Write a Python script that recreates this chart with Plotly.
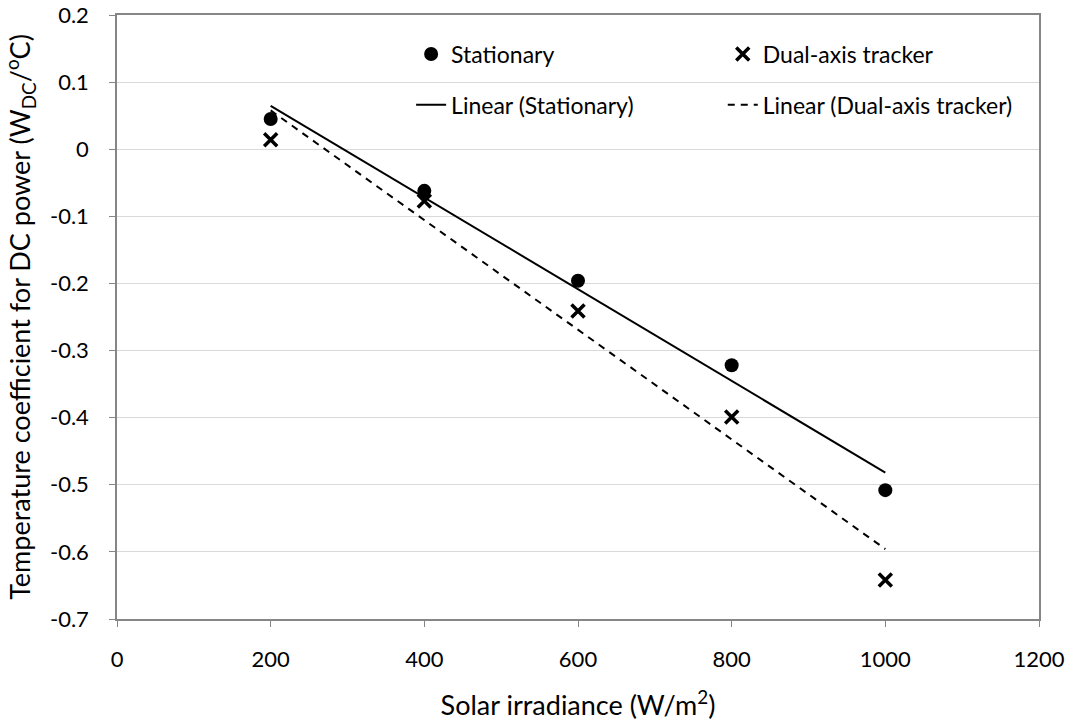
import numpy as np
import plotly.graph_objects as go

# Solar irradiance levels (W/m2)
irradiance = [200, 400, 600, 800, 1000]
# Temperature coefficient for DC power (W_DC/°C)
stationary = [0.045, -0.062, -0.196, -0.322, -0.508]
dual_axis = [0.014, -0.077, -0.241, -0.399, -0.642]

y_ticks = [0.2, 0.1, 0, -0.1, -0.2, -0.3, -0.4, -0.5, -0.6, -0.7]
y_tick_text = ["0.2", "0.1", "0", "-0.1", "-0.2", "-0.3", "-0.4", "-0.5", "-0.6", "-0.7"]
x_ticks = [0, 200, 400, 600, 800, 1000, 1200]

FONT = "Lato, Carlito, Calibri, sans-serif"
AXIS_COLOR = "#868686"

x_arr = np.array(irradiance, dtype=float)
fit_s = np.polyfit(x_arr, np.array(stationary), 1)
fit_d = np.polyfit(x_arr, np.array(dual_axis), 1)
x_fit = np.array([x_arr.min(), x_arr.max()])

fig = go.Figure()

fig.add_trace(go.Scatter(
    x=irradiance, y=stationary, mode="markers", name="Stationary",
    marker=dict(symbol="circle", size=14, color="black"),
    legend="legend", legendgroup="s", legendrank=1,
))
fig.add_trace(go.Scatter(
    x=irradiance, y=dual_axis, mode="markers", name="Dual-axis tracker",
    marker=dict(symbol="x-thin", size=13, color="black",
                line=dict(width=3.5, color="black")),
    legend="legend2", legendgroup="d", legendrank=1,
))
fig.add_trace(go.Scatter(
    x=x_fit, y=np.polyval(fit_s, x_fit), mode="lines", name="Linear (Stationary)",
    line=dict(color="black", width=2),
    legend="legend", legendgroup="ls", legendrank=2,
))
fig.add_trace(go.Scatter(
    x=x_fit, y=np.polyval(fit_d, x_fit), mode="lines", name="Linear (Dual-axis tracker)",
    line=dict(color="black", width=2, dash="7px,6px"),
    legend="legend2", legendgroup="ld", legendrank=2,
))

legend_style = dict(
    font=dict(family=FONT, size=23, color="black"),
    bgcolor="rgba(255,255,255,0)",
    tracegroupgap=18,
    xanchor="left", yanchor="top",
)

fig.update_layout(
    width=1068, height=721,
    margin=dict(l=117, r=29, t=15, b=102),
    paper_bgcolor="white", plot_bgcolor="white",
    font=dict(family=FONT, size=22, color="black"),
    showlegend=True,
    legend=dict(x=0.319, y=0.971, **legend_style),
    legend2=dict(x=0.657, y=0.971, **legend_style),
    xaxis=dict(
        range=[0, 1200], tickvals=x_ticks, automargin=False,
        showline=True, mirror=True, linecolor=AXIS_COLOR, linewidth=1.5,
        ticks="outside", ticklen=6, tickcolor=AXIS_COLOR,
        ticklabelstandoff=14,
        showgrid=False, zeroline=False,
        tickfont=dict(family=FONT, size=22, color="black"),
        title=dict(text="Solar irradiance (W/m<sup>2</sup>)",
                   font=dict(family=FONT, size=27, color="black"), standoff=25),
    ),
    yaxis=dict(
        range=[-0.7, 0.2], tickvals=y_ticks, ticktext=y_tick_text, automargin=False,
        showline=True, mirror=True, linecolor=AXIS_COLOR, linewidth=1.5,
        ticks="outside", ticklen=6, tickcolor=AXIS_COLOR,
        ticklabelstandoff=16,
        showgrid=True, gridcolor="#d9d9d9", gridwidth=1, zeroline=False,
        tickfont=dict(family=FONT, size=22, color="black"),
        title=dict(text="Temperature coefficient for DC power (W<sub>DC</sub>/<sup>o</sup>C)",
                   font=dict(family=FONT, size=27, color="black"), standoff=12),
    ),
)

fig.write_html("out.html")
